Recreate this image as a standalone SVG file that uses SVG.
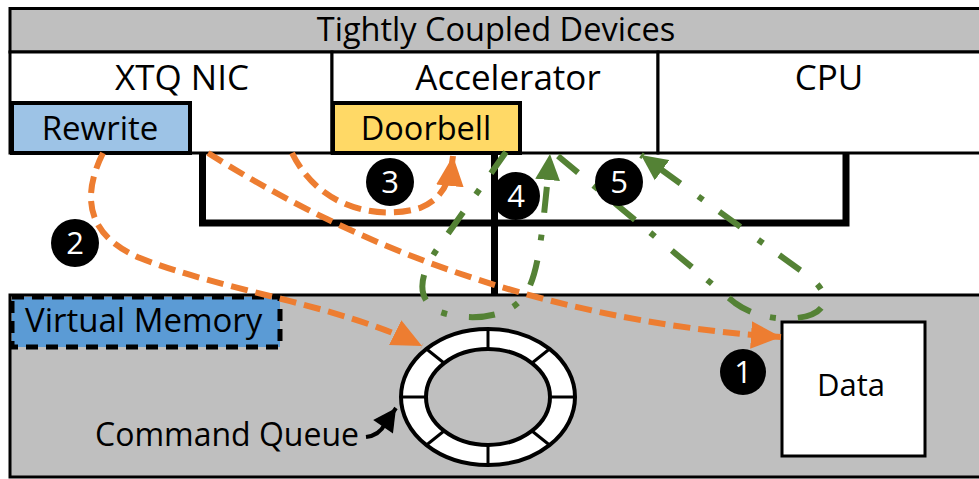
<svg xmlns="http://www.w3.org/2000/svg" width="979" height="479" viewBox="0 0 979 479">
<style>
text{font-family:"Open Sans","Noto Sans","Liberation Sans",sans-serif;fill:#000}
.box{stroke:#000;stroke-width:3}
.lbl{font-size:35px;text-anchor:middle}
.bus{stroke:#000;stroke-width:7;fill:none;stroke-linecap:square}
.or{fill:none;stroke:#ED7D31;stroke-width:6;stroke-dasharray:17 8}
.gr{fill:none;stroke:#548235;stroke-width:6;stroke-dasharray:26 20 6 22}
.badge circle{fill:#000}
.badge text{fill:#fff;font-size:31px;text-anchor:middle}
</style>
<defs>
<marker id="aO" markerUnits="userSpaceOnUse" markerWidth="30" markerHeight="30" refX="25" refY="11.5" orient="auto" viewBox="0 0 25 23"><path d="M0,0 L25,11.5 L0,23 Z" fill="#ED7D31"/></marker>
<marker id="aG" markerUnits="userSpaceOnUse" markerWidth="26" markerHeight="26" refX="22" refY="10.5" orient="auto" viewBox="0 0 22 21"><path d="M0,0 L22,10.5 L0,21 Z" fill="#548235"/></marker>
<marker id="aK" markerUnits="userSpaceOnUse" markerWidth="24" markerHeight="24" refX="19" refY="10" orient="auto" viewBox="0 0 19 20"><path d="M0,0 L19,10 L0,20 Z" fill="#000"/></marker>
</defs>

<g id="tight-coupled">
<rect class="box" x="10" y="8.5" width="980" height="43.5" fill="#BFBFBF"/>
<text x="496" y="41" style="font-size:32.5px" text-anchor="middle">Tightly Coupled Devices</text>
</g>
<g id="xtq-nic">
<rect class="box" x="10" y="52" width="322" height="101" fill="#fff"/>
<text class="lbl" x="182" y="90">XTQ NIC</text>
</g>
<g id="accelerator">
<rect class="box" x="332" y="52" width="326" height="101" fill="#fff"/>
<text class="lbl" x="508" y="90">Accelerator</text>
</g>
<g id="cpu">
<rect class="box" x="658" y="52" width="330" height="101" fill="#fff"/>
<text class="lbl" x="829" y="90">CPU</text>
</g>
<g id="rewrite">
<rect x="12" y="103" width="178" height="50" fill="#9DC3E6" stroke="#000" stroke-width="4"/>
<text x="100" y="140" style="font-size:33px" text-anchor="middle">Rewrite</text>
</g>
<g id="doorbell">
<rect x="333" y="103" width="187" height="50" fill="#FFD966" stroke="#000" stroke-width="4"/>
<text x="426" y="140" style="font-size:32.5px" text-anchor="middle">Doorbell</text>
</g>

<g id="bus">
<path class="bus" d="M202.5,156 V223 H846 V156"/>
<path class="bus" d="M494.5,156 V293"/>
</g>

<g id="memory">
<rect class="box" x="10" y="295" width="980" height="182" fill="#BFBFBF"/>
</g>
<g id="virtual-memory">
<rect x="12" y="297" width="268" height="50" fill="#5B9BD5" stroke="#000" stroke-width="5" stroke-dasharray="12 8"/>
<text x="25" y="332" style="font-size:33px">Virtual Memory</text>
</g>
<g id="command-queue">
<ellipse cx="488" cy="397" rx="87" ry="68" fill="#fff" stroke="#000" stroke-width="4"/>
<ellipse cx="488" cy="397" rx="62" ry="48" fill="#BFBFBF" stroke="#000" stroke-width="4"/>
<g stroke="#000" stroke-width="3">
<line x1="488" y1="329" x2="488" y2="349"/>
<line x1="488" y1="445" x2="488" y2="465"/>
<line x1="401" y1="397" x2="426" y2="397"/>
<line x1="550" y1="397" x2="575" y2="397"/>
<line x1="426.5" y1="349" x2="444" y2="363"/>
<line x1="549.5" y1="349" x2="532" y2="363"/>
<line x1="426.5" y1="445" x2="444" y2="431"/>
<line x1="549.5" y1="445" x2="532" y2="431"/>
</g>
<text x="95" y="446" style="font-size:32px">Command Queue</text>
<path d="M366,437 C374,436 381,432 385,424 L396,408" fill="none" stroke="#000" stroke-width="4" marker-end="url(#aK)"/>
</g>
<g id="data">
<rect class="box" x="782" y="322" width="143" height="134" fill="#fff"/>
<text x="851" y="396" style="font-size:31px" text-anchor="middle">Data</text>
</g>

<g id="connectors">
<path class="or" d="M208,153 C330,230 520,320 781,337" marker-end="url(#aO)"/>
<path class="or" d="M103,153 C82,195 85,235 140,258 C220,290 340,305 422,346" marker-end="url(#aO)"/>
<path class="or" d="M292,153 C320,210 380,220 420,208 C440,200 450,185 453,156" marker-end="url(#aO)"/>
<path class="gr" d="M506,152 L440,245 C418,275 415,300 440,312 C470,322 510,318 525,295 C538,275 542,240 550,154" marker-end="url(#aG)"/>
<path class="gr" d="M558,156 L735,303 C765,325 815,322 823,305 C828,292 815,280 800,270 L641,155" marker-end="url(#aG)"/>
</g>

<g id="badge-1" class="badge"><circle cx="743" cy="372" r="23"/><text x="743" y="383">1</text></g>
<g id="badge-2" class="badge"><circle cx="75" cy="243" r="24"/><text x="75" y="254">2</text></g>
<g id="badge-3" class="badge"><circle cx="390" cy="182" r="24"/><text x="390" y="193">3</text></g>
<g id="badge-4" class="badge"><circle cx="516" cy="196" r="24"/><text x="516" y="207">4</text></g>
<g id="badge-5" class="badge"><circle cx="619" cy="182" r="24"/><text x="619" y="193">5</text></g>
</svg>
